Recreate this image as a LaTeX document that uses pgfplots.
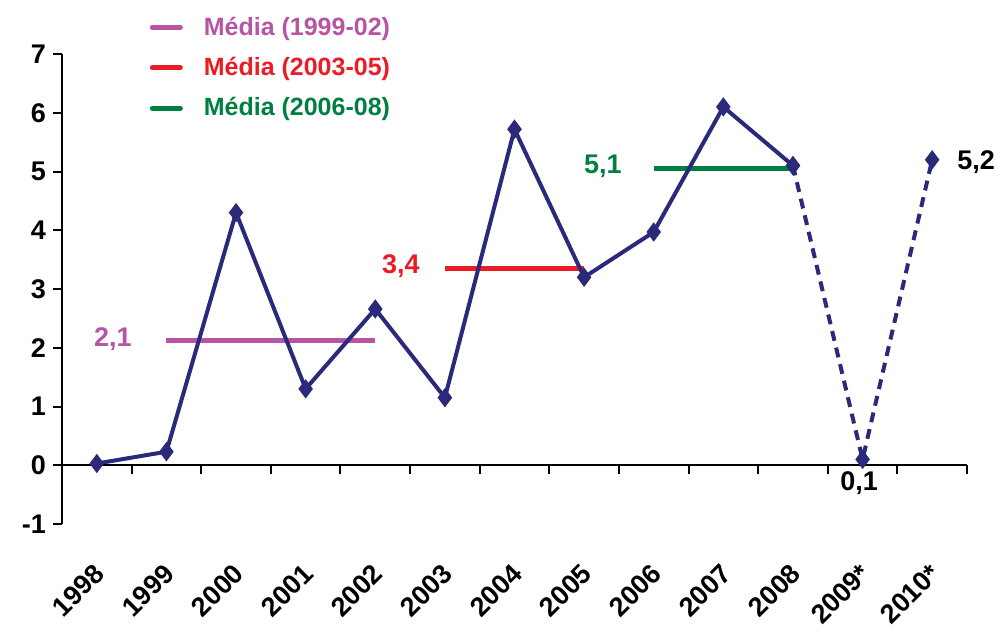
\documentclass[border=0pt]{standalone}
\usepackage{pgfplots}
\pgfplotsset{compat=1.18}
\usepackage{fontspec}
\setmainfont{Liberation Sans}
\definecolor{navy}{RGB}{43,42,122}
\definecolor{mpink}{RGB}{184,84,164}
\definecolor{mred}{RGB}{236,28,36}
\definecolor{mgreen}{RGB}{0,128,64}
\newcommand{\lf}{\bfseries\fontsize{13.5}{16}\selectfont}
\newcommand{\lgf}{\bfseries\fontsize{12.5}{15}\selectfont}
\begin{document}
\begin{tikzpicture}
\begin{axis}[name=ax, scale only axis, width=452.5pt, height=235pt,
  xmin=-0.5, xmax=12.5, ymin=-1, ymax=7,
  axis y line=left, axis x line=middle,
  axis line style={-, line width=1pt, black},
  ytick={-1,0,1,2,3,4,5,6,7},
  yticklabels={-1,0,1,2,3,4,5,6,7},
  tick align=outside, major tick length=4.5pt,
  tick style={line width=1pt, black},
  xtick={-0.5,0.5,...,12.5}, xticklabels={},
  extra x ticks={0,1,2,3,4,5,6,7,8,9,10,11,12},
  extra x tick labels={1998,1999,2000,2001,2002,2003,2004,2005,2006,2007,2008,2009*,2010*},
  extra x tick style={major tick length=0pt, tick style={draw=none},
    tick label style={yshift=-43.5pt, xshift=-2pt, rotate=45, anchor=north east}},
  tick label style={font=\lf},
  /pgf/number format/assume math mode=true,
  clip=false,
  legend style={at={(axis description cs:0.09,1.097)}, anchor=north west,
    draw=none, fill=none, font=\lgf, row sep=5.5pt,
    /tikz/every even column/.append style={column sep=0pt}},
  legend cell align=left,
  legend image code/.code={\draw[#1, line cap=round] (1pt,0pt) -- (15pt,0pt);},
  legend style={nodes={inner xsep=0pt}},
]
\addplot[mpink, line width=2.5pt] coordinates {(1,2.13) (4,2.13)};
\addlegendentry{\hspace{10.5pt}\textcolor{mpink}{Média (1999-02)}}
\addplot[mred, line width=2.5pt] coordinates {(5,3.35) (7,3.35)};
\addlegendentry{\hspace{10.5pt}\textcolor{mred}{Média (2003-05)}}
\addplot[mgreen, line width=2.5pt] coordinates {(8,5.05) (10,5.05)};
\addlegendentry{\hspace{10.5pt}\textcolor{mgreen}{Média (2006-08)}}
\addplot[navy, line width=2pt, mark=diamond*, mark size=3.2pt, forget plot]
  coordinates {(0,0.03) (1,0.23) (2,4.3) (3,1.3) (4,2.66) (5,1.15) (6,5.72) (7,3.2) (8,3.97) (9,6.1) (10,5.1)};
\addplot[navy, line width=2pt, dash pattern=on 5pt off 3.5pt, mark=diamond*, mark size=3.2pt, mark options={solid}, forget plot]
  coordinates {(10,5.1) (11,0.1) (12,5.2)};
\node[anchor=east, inner sep=0pt, text=mpink, font=\lf] at (axis cs:0.506,2.14) {2,1};
\node[anchor=east, inner sep=0pt, text=mred, font=\lf] at (axis cs:4.643,3.39) {3,4};
\node[anchor=east, inner sep=0pt, text=mgreen, font=\lf] at (axis cs:7.544,5.09) {5,1};
\node[inner sep=0pt, font=\lf] at (axis cs:10.95,-0.31) {0,1};
\node[anchor=west, inner sep=0pt, font=\lf] at (axis cs:12.356,5.16) {5,2};
\end{axis}
\path (ax.south west) ++(-31pt,-51pt) rectangle ++(498.5pt,313pt);
\end{tikzpicture}
\end{document}
